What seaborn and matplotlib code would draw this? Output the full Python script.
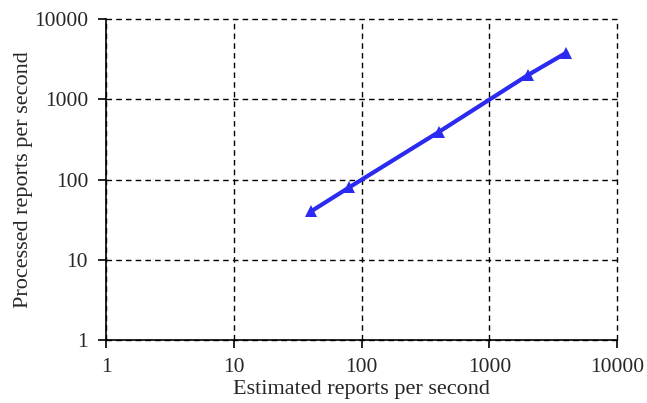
import numpy as np
import pandas as pd
import matplotlib
matplotlib.use("Agg")
import matplotlib.pyplot as plt
import matplotlib.ticker as mticker
import seaborn as sns

# ---- Data ---------------------------------------------------------------
estimated = [40, 80, 400, 2000, 4000]
processed = [40, 80, 390, 2000, 3800]
decades = [1, 10, 100, 1000, 10000]

df = pd.DataFrame({"estimated": estimated, "processed": processed})

sns.set_style("white")
plt.rcParams["font.family"] = ["Liberation Serif", "DejaVu Serif"]

fig = plt.figure(figsize=(6.47, 4.03), dpi=100)
ax = fig.add_axes([0.164, 0.156, 0.79, 0.797])

sns.lineplot(data=df, x="estimated", y="processed", ax=ax,
             color="#2a2af0", linewidth=3, marker="^", markersize=9,
             markeredgewidth=0)

ax.set_xscale("log")
ax.set_yscale("log")
ax.set_xlim(1, 10000)
ax.set_ylim(1, 10000)
ax.set_xticks(decades)
ax.set_yticks(decades)
ax.xaxis.set_major_formatter(mticker.FixedFormatter([str(d) for d in decades]))
ax.yaxis.set_major_formatter(mticker.FixedFormatter([str(d) for d in decades]))
ax.xaxis.set_minor_locator(mticker.NullLocator())
ax.yaxis.set_minor_locator(mticker.NullLocator())

ax.grid(True, which="major", color="black", linestyle=(0, (4, 3)), linewidth=1)
for gl in ax.get_xgridlines() + ax.get_ygridlines():
    gl.set_clip_on(False)
ax.set_axisbelow(True)
for side in ("top", "right"):
    ax.spines[side].set_visible(False)
for side in ("left", "bottom"):
    ax.spines[side].set_color("black")
    ax.spines[side].set_linewidth(1.2)

ax.tick_params(axis="both", which="major", direction="out", length=6,
               width=1.2, color="black", labelsize=15.5, pad=7,
               bottom=True, left=True)
ax.set_xlabel("Estimated reports per second", fontsize=16, labelpad=2)
ax.set_ylabel("Processed reports per second", fontsize=16, labelpad=0.5)

fig.savefig("out.png", dpi=100)
